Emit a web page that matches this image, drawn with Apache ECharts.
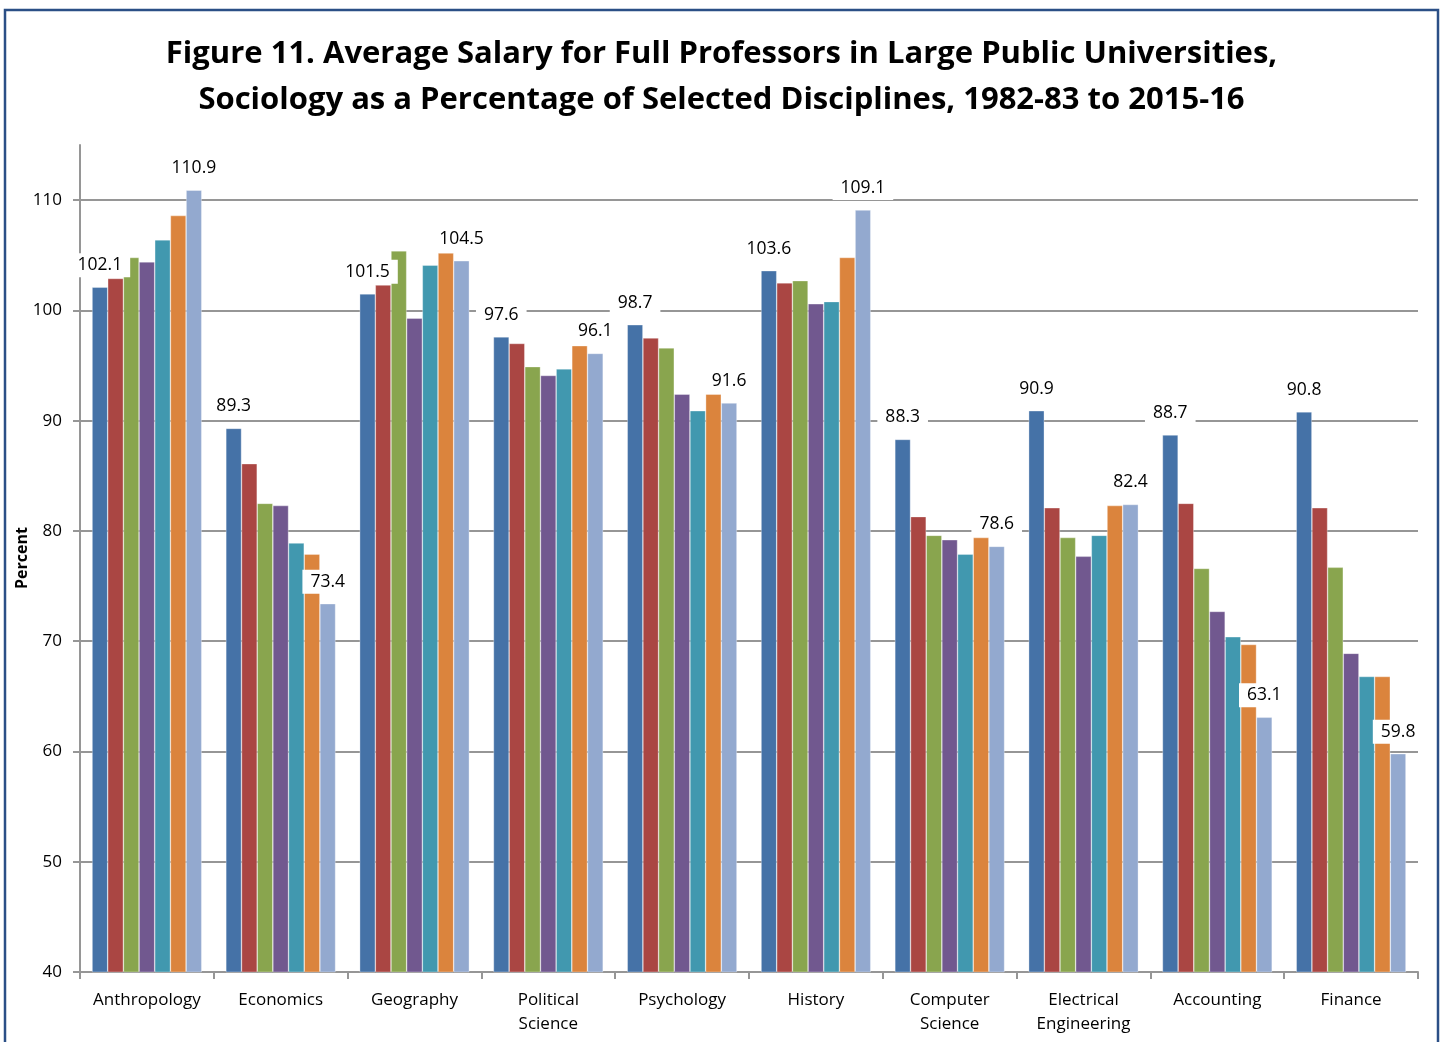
<!DOCTYPE html>
<html>
<head>
<meta charset="utf-8">
<title>Figure 11</title>
<script src="https://cdn.jsdelivr.net/npm/echarts@6/dist/echarts.min.js"></script>
<style>
  html, body { margin: 0; padding: 0; background: #fff; }
  #chart { width: 1443px; height: 1042px; }
</style>
</head>
<body>
<div id="chart"></div>
<script>
// disciplines on the x axis
var categories = ['Anthropology', 'Economics', 'Geography', 'Political\nScience', 'Psychology',
  'History', 'Computer\nScience', 'Electrical\nEngineering', 'Accounting', 'Finance'];

// one array per year (sociology salary as % of discipline)
var years = ['1982-83', '1987-88', '1992-93', '1997-98', '2002-03', '2007-08', '2015-16'];
var y1982 = [102.1, 89.3, 101.5, 97.6, 98.7, 103.6, 88.3, 90.9, 88.7, 90.8];
var y1987 = [102.9, 86.1, 102.3, 97.0, 97.5, 102.5, 81.3, 82.1, 82.5, 82.1];
var y1992 = [104.8, 82.5, 105.4, 94.9, 96.6, 102.7, 79.6, 79.4, 76.6, 76.7];
var y1997 = [104.4, 82.3, 99.3, 94.1, 92.4, 100.6, 79.2, 77.7, 72.7, 68.9];
var y2002 = [106.4, 78.9, 104.1, 94.7, 90.9, 100.8, 77.9, 79.6, 70.4, 66.8];
var y2007 = [108.6, 77.9, 105.2, 96.8, 92.4, 104.8, 79.4, 82.3, 69.7, 66.8];
var y2015 = [110.9, 73.4, 104.5, 96.1, 91.6, 109.1, 78.6, 82.4, 63.1, 59.8];

var yTicks = [40, 50, 60, 70, 80, 90, 100, 110];

var colors = ['#4572A7', '#AA4643', '#89A54E', '#71588F', '#4198AF', '#DB843D', '#93A9CF'];
var seriesData = [y1982, y1987, y1992, y1997, y2002, y2007, y2015];

var font = '"Open Sans", "Liberation Sans", sans-serif';

var chart = echarts.init(document.getElementById('chart'), null, { renderer: 'canvas' });

var series = seriesData.map(function (d, i) {
  var labelled = (i === 0 || i === seriesData.length - 1);
  return {
    name: years[i],
    type: 'bar',
    data: d,
    barGap: '0%',
    barCategoryGap: '18%',
    itemStyle: {
      color: colors[i],
      borderColor: 'rgba(255,255,255,0.55)',
      borderWidth: 0.6
    },
    label: {
      show: labelled,
      position: 'top',
      distance: 10,
      color: '#000',
      fontFamily: font,
      fontSize: 17.5,
      backgroundColor: '#fff',
      padding: [3, 8, 3, 8],
      formatter: function (p) { return p.value.toFixed(1); }
    }
  };
});

chart.setOption({
  animation: false,
  textStyle: { fontFamily: font },
  title: {
    text: 'Figure 11. Average Salary for Full Professors in Large Public Universities,\nSociology as a Percentage of Selected Disciplines, 1982-83 to 2015-16',
    left: 'center',
    top: 26,
    textStyle: {
      fontFamily: font,
      fontSize: 31,
      fontWeight: 'bold',
      color: '#000',
      lineHeight: 46
    }
  },
  graphic: [{
    type: 'rect',
    shape: { x: 5, y: 10, width: 1433, height: 1045 },
    style: { fill: 'none', stroke: '#2B4F86', lineWidth: 2.5 },
    silent: true
  }, {
    // y axis title, placed by hand like the original
    type: 'text',
    x: 22,
    y: 558,
    rotation: Math.PI / 2,
    style: {
      text: 'Percent',
      fill: '#000',
      font: 'bold 16px "Open Sans", sans-serif',
      align: 'center',
      verticalAlign: 'middle'
    },
    silent: true
  }],
  grid: { left: 80, right: 25, top: 145, bottom: 70 },
  xAxis: {
    type: 'category',
    data: categories,
    axisLine: { lineStyle: { color: '#969696', width: 2 } },
    axisTick: { show: true, length: 7, lineStyle: { color: '#969696', width: 2 } },
    axisLabel: {
      color: '#000',
      fontFamily: font,
      fontSize: 17,
      lineHeight: 24,
      margin: 16,
      interval: 0
    }
  },
  yAxis: {
    type: 'value',
    min: 40,
    max: 115,
    interval: 10,
    axisLine: { show: true, lineStyle: { color: '#969696', width: 2 } },
    axisTick: { show: true, length: 7, customValues: yTicks, lineStyle: { color: '#969696', width: 2 } },
    axisLabel: {
      color: '#000',
      fontFamily: font,
      fontSize: 17,
      margin: 18,
      customValues: yTicks
    },
    splitLine: { show: true, lineStyle: { color: '#969696', width: 2 } }
  },
  series: series
});
</script>
</body>
</html>
